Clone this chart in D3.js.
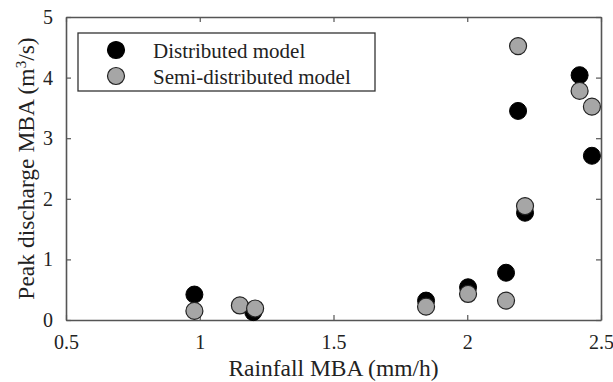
<!DOCTYPE html>
<html lang="en">
<head>
<meta charset="UTF-8">
<title>Peak discharge MBA</title>
<script src="https://d3js.org/d3.v7.min.js"></script>
<style>
  body { margin: 0; background: #fff; }
  text { font-family: "Liberation Serif", "Times New Roman", serif; fill: #222; }
</style>
</head>
<body>
<svg id="chart"></svg>
<script>
const distX = [0.98, 1.20, 1.846, 2.003, 2.145, 2.216, 2.19, 2.42, 2.466];
const distY = [0.42, 0.13, 0.32, 0.54, 0.78, 1.77, 3.45, 4.04, 2.71];
const semiX = [0.98, 1.15, 1.207, 1.846, 2.003, 2.145, 2.216, 2.19, 2.42, 2.466];
const semiY = [0.15, 0.24, 0.19, 0.22, 0.43, 0.32, 1.88, 4.52, 3.78, 3.52];
const xTicks = [0.5, 1, 1.5, 2, 2.5];
const yTicks = [0, 1, 2, 3, 4, 5];
const seriesNames = ["Distributed model", "Semi-distributed model"];

const W = 613, H = 382;
const margin = { top: 17, right: 12, bottom: 62, left: 66 };
const width = W - margin.left - margin.right;
const height = H - margin.top - margin.bottom;

const svg = d3.select("#chart").attr("width", W).attr("height", H);
const g = svg.append("g").attr("transform", `translate(${margin.left},${margin.top})`);

const x = d3.scaleLinear().domain([0.5, 2.5]).range([0, width]);
const y = d3.scaleLinear().domain([0, 5]).range([height, 0]);

const axisColor = "#555";
const fmt = d => String(d);

// box with inward ticks on all four sides
g.append("g").attr("transform", `translate(0,${height})`)
  .call(d3.axisBottom(x).tickValues(xTicks).tickSizeInner(-5).tickSizeOuter(0).tickPadding(15).tickFormat(fmt));
g.append("g")
  .call(d3.axisTop(x).tickValues(xTicks).tickSizeInner(-5).tickSizeOuter(0).tickFormat(""));
g.append("g")
  .call(d3.axisLeft(y).tickValues(yTicks).tickSizeInner(-5).tickSizeOuter(0).tickPadding(13).tickFormat(fmt));
g.append("g").attr("transform", `translate(${width},0)`)
  .call(d3.axisRight(y).tickValues(yTicks).tickSizeInner(-5).tickSizeOuter(0).tickFormat(""));

g.selectAll(".domain").attr("stroke", axisColor).attr("stroke-width", 1.6);
g.selectAll(".tick line").attr("stroke", axisColor).attr("stroke-width", 1.2);
g.selectAll(".tick text").attr("fill", "#222")
  .attr("font-family", "'Liberation Serif', serif").style("font-size", "20px");

// points: semi-distributed drawn on top
const r = 8.5;
g.selectAll(".dist").data(distX.map((v, i) => [v, distY[i]])).enter()
  .append("circle").attr("class", "dist")
  .attr("cx", d => x(d[0])).attr("cy", d => y(d[1])).attr("r", r)
  .attr("fill", "#000").attr("stroke", "#000").attr("stroke-width", 1);
g.selectAll(".semi").data(semiX.map((v, i) => [v, semiY[i]])).enter()
  .append("circle").attr("class", "semi")
  .attr("cx", d => x(d[0])).attr("cy", d => y(d[1])).attr("r", r)
  .attr("fill", "#a6a6a6").attr("stroke", "#222").attr("stroke-width", 1.2);

// axis labels
svg.append("text").attr("x", margin.left + width / 2).attr("y", 376)
  .attr("text-anchor", "middle").style("font-size", "23.5px").text("Rainfall MBA (mm/h)");
const yl = svg.append("text").attr("transform", `translate(34,${margin.top + height / 2}) rotate(-90)`)
  .attr("text-anchor", "middle").style("font-size", "23.5px");
yl.append("tspan").text("Peak discharge MBA (m");
yl.append("tspan").attr("baseline-shift", "super").style("font-size", "15px").text("3");
yl.append("tspan").text("/s)");

// legend
const lg = svg.append("g").attr("transform", "translate(78,33)");
lg.append("rect").attr("width", 297).attr("height", 58)
  .attr("fill", "#fff").attr("stroke", "#333").attr("stroke-width", 1.3);
seriesNames.forEach((name, i) => {
  lg.append("circle").attr("cx", 38).attr("cy", 17 + i * 26).attr("r", r)
    .attr("fill", i === 0 ? "#000" : "#a6a6a6").attr("stroke", i === 0 ? "#000" : "#222").attr("stroke-width", 1.2);
  lg.append("text").attr("x", 75).attr("y", 18 + i * 26).attr("dy", "0.35em")
    .style("font-size", "21px").text(name);
});
</script>
</body>
</html>
